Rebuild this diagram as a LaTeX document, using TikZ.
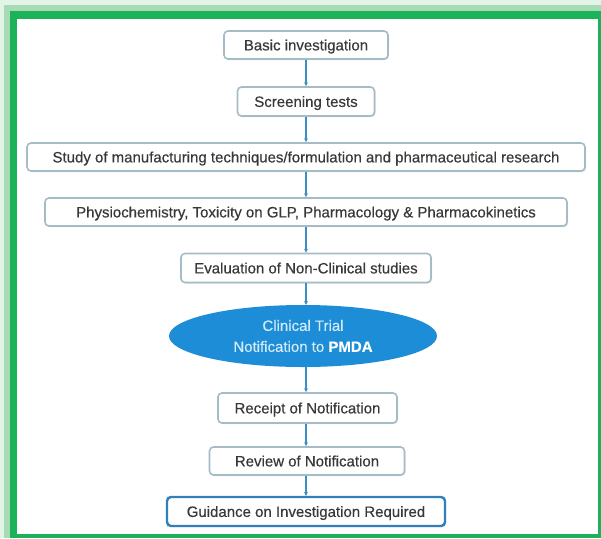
\documentclass[tikz,border=0pt]{standalone}
\usepackage{fontspec}
\setmainfont{Liberation Sans}[FakeBold=0.35]
\usetikzlibrary{arrows.meta,shapes.geometric,shadows}

\definecolor{glowA}{HTML}{E2F3E7}
\definecolor{glowB}{HTML}{A6DBB6}
\definecolor{frameGreen}{HTML}{1CB25A}
\definecolor{boxLine}{HTML}{A5BBC6}
\definecolor{arrowBlue}{HTML}{3C8FC4}
\definecolor{ovalBlue}{HTML}{1C8DD6}
\definecolor{ovalText}{HTML}{D3EBF9}
\definecolor{finalLine}{HTML}{2F80BB}
\definecolor{txt}{HTML}{383838}

\tikzset{
  stepbox/.style={draw=boxLine, line width=1.6pt, rounded corners=4pt, fill=white,
    inner sep=0pt, text=txt, text height=12pt, text depth=1.2pt,
    font=\fontsize{15}{18}\selectfont,
    drop shadow={shadow xshift=1pt, shadow yshift=-1.2pt, opacity=0.18, fill=black!60}},
  finalbox/.style={stepbox, draw=finalLine, line width=2.4pt},
  oval/.style={ellipse, fill=ovalBlue, inner sep=0pt, text=ovalText, align=center,
    font=\fontsize{15}{21}\selectfont},
  flow/.style={draw=arrowBlue, line width=1.3pt, -{Stealth[length=4pt,width=4pt]}}
}

\begin{document}
\begin{tikzpicture}[x=1pt,y=-1pt]
  % frame with soft green glow on top and left
  \fill[glowA] (0,0) rectangle (601,538);
  \fill[glowB] (3.5,5) rectangle (601,538);
  \fill[frameGreen] (10,11) rectangle (601,538);
  \fill[white] (17,19) rectangle (597.5,534);
  \useasboundingbox (0,0) rectangle (601,538);

  % process steps
  \node[stepbox, minimum width=164pt, minimum height=28pt] (basic) at (306,45) {Basic investigation};
  \node[stepbox, minimum width=137pt, minimum height=29pt] (screen) at (306,101.5) {Screening tests};
  \node[stepbox, minimum width=558pt, minimum height=28pt] (study) at (306,157) {Study of manufacturing techniques/formulation and pharmaceutical research};
  \node[stepbox, minimum width=522pt, minimum height=28pt] (physio) at (306,212) {Physiochemistry, Toxicity on GLP, Pharmacology \& Pharmacokinetics};
  \node[stepbox, minimum width=250pt, minimum height=29pt] (evalu) at (306,268) {Evaluation of Non-Clinical studies};
  \node[oval, minimum width=268pt, minimum height=62pt] (ctn) at (303,336) {Clinical Trial\\Notification to \textcolor{white}{\textbf{PMDA}}};
  \node[stepbox, minimum width=179pt, minimum height=30pt] (receipt) at (307.5,408) {Receipt of Notification};
  \node[stepbox, minimum width=195pt, minimum height=28pt] (review) at (307,461) {Review of Notification};
  \node[finalbox, minimum width=278pt, minimum height=29pt] (guide) at (306,511.5) {Guidance on Investigation Required};

  % connectors
  \draw[flow] (basic.south) -- (basic.south |- screen.north);
  \draw[flow] (screen.south) -- (screen.south |- study.north);
  \draw[flow] (study.south) -- (study.south |- physio.north);
  \draw[flow] (physio.south) -- (physio.south |- evalu.north);
  \draw[flow] (evalu.south) -- (evalu.south |- ctn.north);
  \draw[flow] (evalu.south |- ctn.south) -- (evalu.south |- receipt.north);
  \draw[flow] (evalu.south |- receipt.south) -- (evalu.south |- review.north);
  \draw[flow] (evalu.south |- review.south) -- (evalu.south |- guide.north);
\end{tikzpicture}
\end{document}
